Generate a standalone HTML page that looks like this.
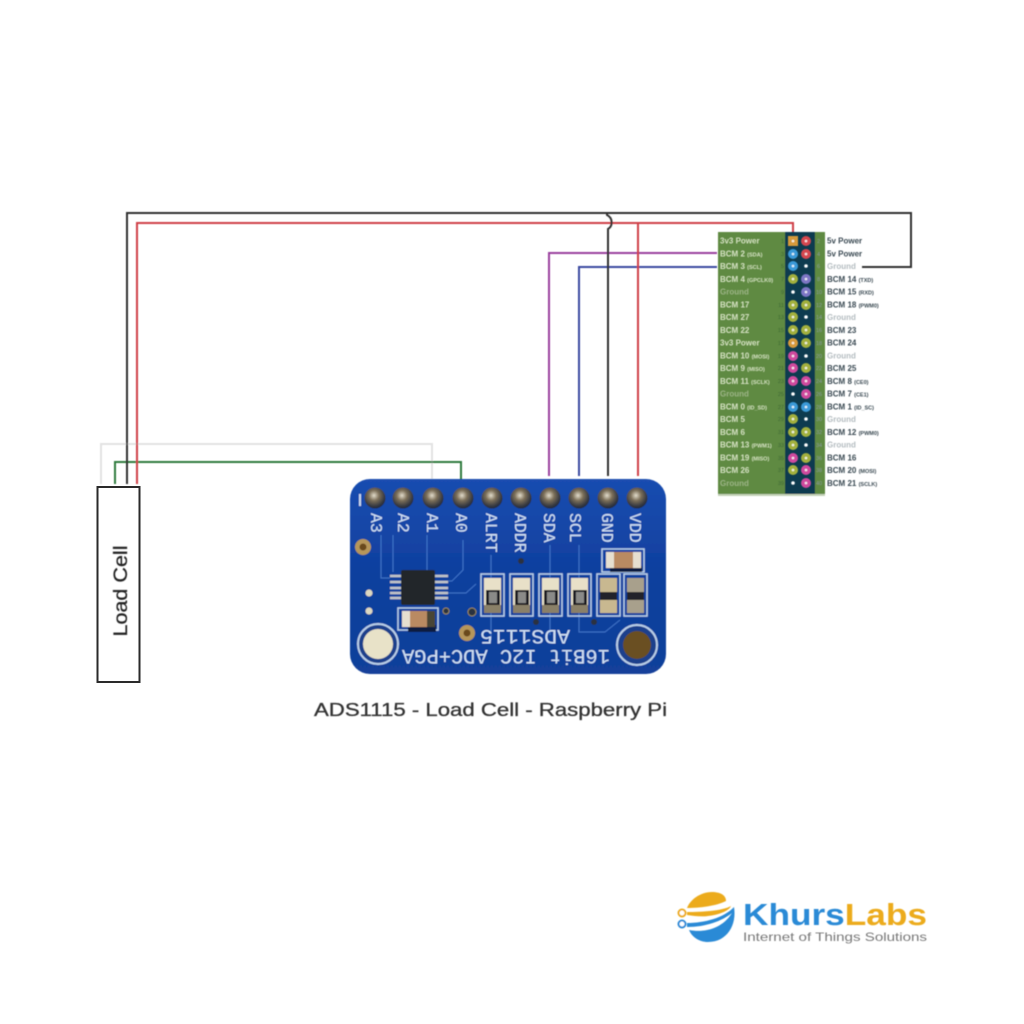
<!DOCTYPE html>
<html>
<head>
<meta charset="utf-8">
<style>
html,body{margin:0;padding:0;background:#fff;width:1024px;height:1024px;overflow:hidden}
svg{display:block}
text{font-family:"Liberation Sans",sans-serif}
.m text{font-family:"Liberation Mono",monospace}
</style>
</head>
<body>
<svg width="1024" height="1024" viewBox="0 0 1024 1024" xmlns="http://www.w3.org/2000/svg">
<defs>
<filter id="b" x="-5%" y="-5%" width="110%" height="110%"><feGaussianBlur stdDeviation="0.6"/></filter>
<filter id="b2" x="-5%" y="-5%" width="110%" height="110%"><feGaussianBlur stdDeviation="0.45"/></filter>
<filter id="b3" x="-5%" y="-50%" width="110%" height="200%"><feGaussianBlur stdDeviation="0.4"/></filter>
<radialGradient id="pin" cx="0.45" cy="0.38" r="0.62"><stop offset="0" stop-color="#e2dccb"/><stop offset="0.4" stop-color="#7d7059"/><stop offset="0.8" stop-color="#3a3c42"/><stop offset="1" stop-color="#20283c"/></radialGradient>
<linearGradient id="bd" x1="0" y1="0" x2="0" y2="1"><stop offset="0" stop-color="#1a4db0"/><stop offset="0.5" stop-color="#0f3f9e"/><stop offset="1" stop-color="#123f9a"/></linearGradient>
</defs>

<!-- wires -->
<g fill="none" filter="url(#b3)">
<path d="M101 484V444H432V479" stroke="#e2e2e2" stroke-width="2"/>
<path d="M115 484V462H461V481" stroke="#2f7a3c" stroke-width="2"/>
<path d="M137 484V223H793V234" stroke="#cf3f47" stroke-width="2"/>
<path d="M127 484V213H911V267H862" stroke="#333" stroke-width="2"/>
<path d="M549 476V253H717" stroke="#9a3f9e" stroke-width="2"/>
<path d="M579 476V267H717" stroke="#3b4aa0" stroke-width="2"/>
<path d="M638 476V223" stroke="#cf3f47" stroke-width="2"/>
<path d="M608 476V229C613 226 613 218 607 215V213" stroke="#333" stroke-width="2"/>
</g>

<!-- load cell -->
<rect x="97.500" y="487" width="42" height="195" fill="#fff" stroke="#2a2a2a" stroke-width="2"/>
<text transform="translate(127,636.500) rotate(-90)" font-size="19.500" fill="#222" stroke="#222" stroke-width=".25" textLength="91" lengthAdjust="spacingAndGlyphs" filter="url(#b3)">Load Cell</text>

<!-- pinout table -->
<g filter="url(#b2)">
<rect x="718" y="232" width="107" height="263" fill="#5f8a43"/>
<rect x="785" y="232" width="30" height="263" fill="#0e3a50"/>
<rect x="718" y="494" width="107" height="2" fill="#c5d2b8"/>
</g>
<g filter="url(#b2)" font-size="8" font-weight="bold">
<g fill="#d6e2c4">
<text x="720" y="243.500">3v3 Power</text>
<text x="720" y="256.500">BCM 2 <tspan font-size="5.500">(SDA)</tspan></text>
<text x="720" y="269">BCM 3 <tspan font-size="5.500">(SCL)</tspan></text>
<text x="720" y="282">BCM 4 <tspan font-size="5.500">(GPCLK0)</tspan></text>
<text x="720" y="294.500" fill="#9cb486">Ground</text>
<text x="720" y="307.500">BCM 17</text>
<text x="720" y="320">BCM 27</text>
<text x="720" y="333">BCM 22</text>
<text x="720" y="345.500">3v3 Power</text>
<text x="720" y="358.500">BCM 10 <tspan font-size="5.500">(MOSI)</tspan></text>
<text x="720" y="371">BCM 9 <tspan font-size="5.500">(MISO)</tspan></text>
<text x="720" y="384">BCM 11 <tspan font-size="5.500">(SCLK)</tspan></text>
<text x="720" y="396.500" fill="#9cb486">Ground</text>
<text x="720" y="409.500">BCM 0 <tspan font-size="5.500">(ID_SD)</tspan></text>
<text x="720" y="422">BCM 5</text>
<text x="720" y="435">BCM 6</text>
<text x="720" y="447.500">BCM 13 <tspan font-size="5.500">(PWM1)</tspan></text>
<text x="720" y="460.500">BCM 19 <tspan font-size="5.500">(MISO)</tspan></text>
<text x="720" y="473">BCM 26</text>
<text x="720" y="486" fill="#9cb486">Ground</text>
</g>
<g fill="#3a4a52">
<text x="827" y="243.500">5v Power</text>
<text x="827" y="256.500">5v Power</text>
<text x="827" y="269" fill="#b4bcc0">Ground</text>
<text x="827" y="282">BCM 14 <tspan font-size="5.500">(TXD)</tspan></text>
<text x="827" y="294.500">BCM 15 <tspan font-size="5.500">(RXD)</tspan></text>
<text x="827" y="307.500">BCM 18 <tspan font-size="5.500">(PWM0)</tspan></text>
<text x="827" y="320" fill="#b4bcc0">Ground</text>
<text x="827" y="333">BCM 23</text>
<text x="827" y="345.500">BCM 24</text>
<text x="827" y="358.500" fill="#b4bcc0">Ground</text>
<text x="827" y="371">BCM 25</text>
<text x="827" y="384">BCM 8 <tspan font-size="5.500">(CE0)</tspan></text>
<text x="827" y="396.500">BCM 7 <tspan font-size="5.500">(CE1)</tspan></text>
<text x="827" y="409.500">BCM 1 <tspan font-size="5.500">(ID_SC)</tspan></text>
<text x="827" y="422" fill="#b4bcc0">Ground</text>
<text x="827" y="435">BCM 12 <tspan font-size="5.500">(PWM0)</tspan></text>
<text x="827" y="447.500" fill="#b4bcc0">Ground</text>
<text x="827" y="460.500">BCM 16</text>
<text x="827" y="473">BCM 20 <tspan font-size="5.500">(MOSI)</tspan></text>
<text x="827" y="486">BCM 21 <tspan font-size="5.500">(SCLK)</tspan></text>
</g>
</g>
<g filter="url(#b2)" font-size="5.500" fill="#3f6a35" text-anchor="end">
<text x="784" y="243">1</text><text x="784" y="256">3</text><text x="784" y="268">5</text><text x="784" y="281">7</text><text x="784" y="294">9</text><text x="784" y="307">11</text><text x="784" y="319">13</text><text x="784" y="332">15</text><text x="784" y="345">17</text><text x="784" y="358">19</text><text x="784" y="370">21</text><text x="784" y="383">23</text><text x="784" y="396">25</text><text x="784" y="409">27</text><text x="784" y="421">29</text><text x="784" y="434">31</text><text x="784" y="447">33</text><text x="784" y="460">35</text><text x="784" y="472">37</text><text x="784" y="485">39</text>
</g>
<g filter="url(#b2)" font-size="5.500" fill="#8a9aa0">
<text x="817" y="243">2</text><text x="817" y="256">4</text><text x="817" y="268">6</text><text x="817" y="281">8</text><text x="816" y="294">10</text><text x="816" y="307">12</text><text x="816" y="319">14</text><text x="816" y="332">16</text><text x="816" y="345">18</text><text x="816" y="358">20</text><text x="816" y="370">22</text><text x="816" y="383">24</text><text x="816" y="396">26</text><text x="816" y="409">28</text><text x="816" y="421">30</text><text x="816" y="434">32</text><text x="816" y="447">34</text><text x="816" y="460">36</text><text x="816" y="472">38</text><text x="816" y="485">40</text>
</g>
<g filter="url(#b2)">
<!-- left pins -->
<rect x="788" y="236" width="10" height="10" fill="#d69a3a"/>
<circle cx="793" cy="254" r="5" fill="#3b9ad8"/>
<circle cx="793" cy="266" r="5" fill="#3b9ad8"/>
<circle cx="793" cy="279" r="5" fill="#a3b03c"/>
<circle cx="793" cy="292" r="1.800" fill="#fff"/>
<circle cx="793" cy="305" r="5" fill="#a3b03c"/>
<circle cx="793" cy="317" r="5" fill="#a3b03c"/>
<circle cx="793" cy="330" r="5" fill="#a3b03c"/>
<circle cx="793" cy="343" r="5" fill="#d69a3a"/>
<circle cx="793" cy="356" r="5" fill="#cf4a9e"/>
<circle cx="793" cy="368" r="5" fill="#cf4a9e"/>
<circle cx="793" cy="381" r="5" fill="#cf4a9e"/>
<circle cx="793" cy="394" r="1.800" fill="#fff"/>
<circle cx="793" cy="407" r="5" fill="#3b9ad8"/>
<circle cx="793" cy="419" r="5" fill="#a3b03c"/>
<circle cx="793" cy="432" r="5" fill="#a3b03c"/>
<circle cx="793" cy="445" r="5" fill="#a3b03c"/>
<circle cx="793" cy="458" r="5" fill="#cf4a9e"/>
<circle cx="793" cy="470" r="5" fill="#a3b03c"/>
<circle cx="793" cy="483" r="1.800" fill="#fff"/>
<!-- right pins -->
<circle cx="806" cy="241" r="5" fill="#d5474f"/>
<circle cx="806" cy="254" r="5" fill="#d5474f"/>
<circle cx="806" cy="266" r="1.800" fill="#fff"/>
<circle cx="806" cy="279" r="5" fill="#7d76c4"/>
<circle cx="806" cy="292" r="5" fill="#7d76c4"/>
<circle cx="806" cy="305" r="5" fill="#a3b03c"/>
<circle cx="806" cy="317" r="1.800" fill="#fff"/>
<circle cx="806" cy="330" r="5" fill="#a3b03c"/>
<circle cx="806" cy="343" r="5" fill="#a3b03c"/>
<circle cx="806" cy="356" r="1.800" fill="#fff"/>
<circle cx="806" cy="368" r="5" fill="#a3b03c"/>
<circle cx="806" cy="381" r="5" fill="#cf4a9e"/>
<circle cx="806" cy="394" r="5" fill="#cf4a9e"/>
<circle cx="806" cy="407" r="5" fill="#3b9ad8"/>
<circle cx="806" cy="419" r="1.800" fill="#fff"/>
<circle cx="806" cy="432" r="5" fill="#a3b03c"/>
<circle cx="806" cy="445" r="1.800" fill="#fff"/>
<circle cx="806" cy="458" r="5" fill="#a3b03c"/>
<circle cx="806" cy="470" r="5" fill="#cf4a9e"/>
<circle cx="806" cy="483" r="5" fill="#cf4a9e"/>
<!-- pin centres -->
<g fill="#fff" opacity=".85">
<circle cx="793" cy="241" r="1.300"/><circle cx="793" cy="254" r="1.300"/><circle cx="793" cy="266" r="1.300"/><circle cx="793" cy="279" r="1.300"/><circle cx="793" cy="305" r="1.300"/><circle cx="793" cy="317" r="1.300"/><circle cx="793" cy="330" r="1.300"/><circle cx="793" cy="343" r="1.300"/><circle cx="793" cy="356" r="1.300"/><circle cx="793" cy="368" r="1.300"/><circle cx="793" cy="381" r="1.300"/><circle cx="793" cy="407" r="1.300"/><circle cx="793" cy="419" r="1.300"/><circle cx="793" cy="432" r="1.300"/><circle cx="793" cy="445" r="1.300"/><circle cx="793" cy="458" r="1.300"/><circle cx="793" cy="470" r="1.300"/>
<circle cx="806" cy="241" r="1.300"/><circle cx="806" cy="254" r="1.300"/><circle cx="806" cy="279" r="1.300"/><circle cx="806" cy="292" r="1.300"/><circle cx="806" cy="305" r="1.300"/><circle cx="806" cy="330" r="1.300"/><circle cx="806" cy="343" r="1.300"/><circle cx="806" cy="368" r="1.300"/><circle cx="806" cy="381" r="1.300"/><circle cx="806" cy="394" r="1.300"/><circle cx="806" cy="407" r="1.300"/><circle cx="806" cy="432" r="1.300"/><circle cx="806" cy="458" r="1.300"/><circle cx="806" cy="470" r="1.300"/><circle cx="806" cy="483" r="1.300"/>
</g>
</g>

<!-- ADS1115 board -->
<g filter="url(#b)">
<rect x="350" y="479" width="316" height="195" rx="20" fill="url(#bd)"/>
<!-- traces -->
<g fill="none" stroke="#4d86d6" stroke-width="1" opacity=".75">
<path d="M381 535V578H390M393 535V572M427 535V570M463 540V570L452 581H448M491 555V640M550 545V635M579 545V632H605L620 620M448 593H466L476 584"/>
</g>
<!-- silk boxes -->
<g fill="none" stroke="#b9cfe8" stroke-width="1.500">
<rect x="481" y="574" width="23" height="42"/>
<rect x="510" y="574" width="23" height="42"/>
<rect x="539" y="574" width="23" height="42"/>
<rect x="568" y="574" width="23" height="42"/>
<rect x="597" y="574" width="23" height="42"/>
<rect x="624" y="574" width="23" height="42"/>
<rect x="602" y="549" width="42" height="23"/>
<rect x="398" y="608" width="40" height="22"/>
</g>
<!-- resistors -->
<g>
<rect x="484" y="578" width="17" height="35" fill="#e8e0c8"/><rect x="486" y="590" width="14" height="15" fill="#1e1e22"/><rect x="489" y="592" width="8" height="11" fill="#8a8a88"/><rect x="484" y="605" width="17" height="8" fill="#8a8068"/>
<rect x="513" y="578" width="17" height="35" fill="#e8e0c8"/><rect x="515" y="590" width="14" height="15" fill="#1e1e22"/><rect x="518" y="592" width="8" height="11" fill="#8a8a88"/><rect x="513" y="605" width="17" height="8" fill="#8a8068"/>
<rect x="542" y="578" width="17" height="35" fill="#e8e0c8"/><rect x="544" y="590" width="14" height="15" fill="#1e1e22"/><rect x="547" y="592" width="8" height="11" fill="#8a8a88"/><rect x="542" y="605" width="17" height="8" fill="#8a8068"/>
<rect x="571" y="578" width="17" height="35" fill="#e8e0c8"/><rect x="573" y="590" width="14" height="15" fill="#1e1e22"/><rect x="576" y="592" width="8" height="11" fill="#8a8a88"/><rect x="571" y="605" width="17" height="8" fill="#8a8068"/>
<rect x="600" y="578" width="17" height="35" fill="#c8b890"/><rect x="600" y="592" width="17" height="8" fill="#22242a"/>
<rect x="627" y="578" width="17" height="35" fill="#a8a08c"/><rect x="627" y="592" width="17" height="8" fill="#22242a"/>
</g>
<!-- capacitors -->
<rect x="610" y="566" width="32" height="6" fill="#0a1a40"/>
<rect x="606" y="552" width="35" height="16" rx="2" fill="#b98a62"/><rect x="606" y="552" width="8" height="16" fill="#e6dfd0"/><rect x="633" y="552" width="8" height="16" fill="#e6dfd0"/>
<rect x="408" y="625" width="28" height="7" fill="#0a1a40"/>
<rect x="402" y="611" width="33" height="16" rx="1" fill="#b98a62"/><rect x="402" y="611" width="8" height="16" fill="#e6dfd0"/><rect x="427" y="611" width="8" height="16" fill="#4a4436"/>
<!-- chip -->
<g stroke="#c4c6c8" stroke-width="2.500"><path d="M390 576h12M390 582h12M390 588h12M390 593h12M390 598h12M434 576h14M434 582h14M434 588h14M434 593h14M434 598h14"/></g>
<rect x="401" y="570" width="34" height="35" rx="2" fill="#23252b"/>
<!-- pins -->
<g>
<circle cx="375" cy="498" r="10.500" fill="url(#pin)"/><circle cx="403" cy="498" r="10.500" fill="url(#pin)"/><circle cx="433" cy="498" r="10.500" fill="url(#pin)"/><circle cx="463" cy="498" r="10.500" fill="url(#pin)"/><circle cx="492" cy="498" r="10.500" fill="url(#pin)"/><circle cx="521" cy="498" r="10.500" fill="url(#pin)"/><circle cx="550" cy="498" r="10.500" fill="url(#pin)"/><circle cx="579" cy="498" r="10.500" fill="url(#pin)"/><circle cx="608" cy="498" r="10.500" fill="url(#pin)"/><circle cx="637" cy="498" r="10.500" fill="url(#pin)"/>
</g>
<rect x="359" y="494" width="2" height="12" fill="#c8d8ee"/>
<!-- holes -->
<circle cx="378" cy="644" r="20" fill="#1a3f8c" stroke="#b9cfe8" stroke-width="2"/><circle cx="378" cy="644" r="15" fill="#e8e2c8"/>
<circle cx="637" cy="645" r="20" fill="#1a3f8c" stroke="#b9cfe8" stroke-width="2"/><circle cx="637" cy="645" r="14" fill="#6a4f24"/>
<circle cx="363" cy="547" r="8" fill="#b6965a"/><circle cx="363" cy="547" r="3.500" fill="#6a4a1f"/>
<circle cx="467" cy="633" r="8" fill="#b6965a"/><circle cx="467" cy="633" r="3.500" fill="#6a4a1f"/>
<circle cx="369" cy="593" r="3.500" fill="#ddd8c0"/><circle cx="369" cy="611" r="3.500" fill="#ddd8c0"/>
<circle cx="472" cy="612" r="4" fill="#2a3040" stroke="#9a8a5a"/><circle cx="521" cy="561" r="3" fill="#2a3040"/><circle cx="536" cy="622" r="3" fill="#2a3040"/><circle cx="594" cy="622" r="3" fill="#2a3040"/><circle cx="446" cy="611" r="3" fill="#2a3040" stroke="#9a8a5a"/>
<!-- silk labels -->
<g class="m" fill="#cfe0f4" font-size="16.500">
<text transform="translate(371,513) rotate(90)">A3</text>
<text transform="translate(398,513) rotate(90)">A2</text>
<text transform="translate(427,513) rotate(90)">A1</text>
<text transform="translate(456,513) rotate(90)">A0</text>
<text transform="translate(486,513) rotate(90)">ALRT</text>
<text transform="translate(515,513) rotate(90)">ADDR</text>
<text transform="translate(544,513) rotate(90)">SDA</text>
<text transform="translate(570,513) rotate(90)">SCL</text>
<text transform="translate(602,513) rotate(90)">GND</text>
<text transform="translate(630,513) rotate(90)">VDD</text>
<text transform="translate(570,630) rotate(180)" font-size="20" textLength="90" lengthAdjust="spacingAndGlyphs">ADS1115</text>
<text transform="translate(610,650) rotate(180)" font-size="20" textLength="208" lengthAdjust="spacingAndGlyphs">16Bit I2C ADC+PGA</text>
</g>
</g>

<!-- title -->
<text x="314" y="716" font-size="18.500" fill="#333" stroke="#333" stroke-width=".3" textLength="353" lengthAdjust="spacingAndGlyphs" filter="url(#b3)">ADS1115 - Load Cell - Raspberry Pi</text>

<!-- logo -->
<g filter="url(#b3)">
<path d="M687 908C690 900 700 892 712 892C720 892 726 895 726 901C716 906 700 908 687 908Z" fill="#ecab1c"/>
<path d="M687 912C702 912 722 911 731 906C729 911 718 915 708 916C702 917 694 916 687 915Z" fill="#ecab1c"/>
<path d="M734 907C737 925 727 942 708 942C699 942 692 937 689 930C704 933 722 929 732 913C722 921 706 927 687 927V923C704 923 724 918 734 907Z" fill="#2b8ad6"/>
<g fill="#fff" stroke-width="2"><circle cx="682" cy="913" r="3.500" stroke="#ecab1c"/><circle cx="682" cy="924" r="3.500" stroke="#2b8ad6"/></g>
<text x="743" y="925" font-size="30.500" font-weight="bold" fill="#2b8ad6" textLength="184" lengthAdjust="spacingAndGlyphs">Khurs<tspan fill="#ecab1c">Labs</tspan></text>
<text x="743" y="941" font-size="12" fill="#777" textLength="184" lengthAdjust="spacingAndGlyphs">Internet of Things Solutions</text>
</g>
</svg>
</body>
</html>
